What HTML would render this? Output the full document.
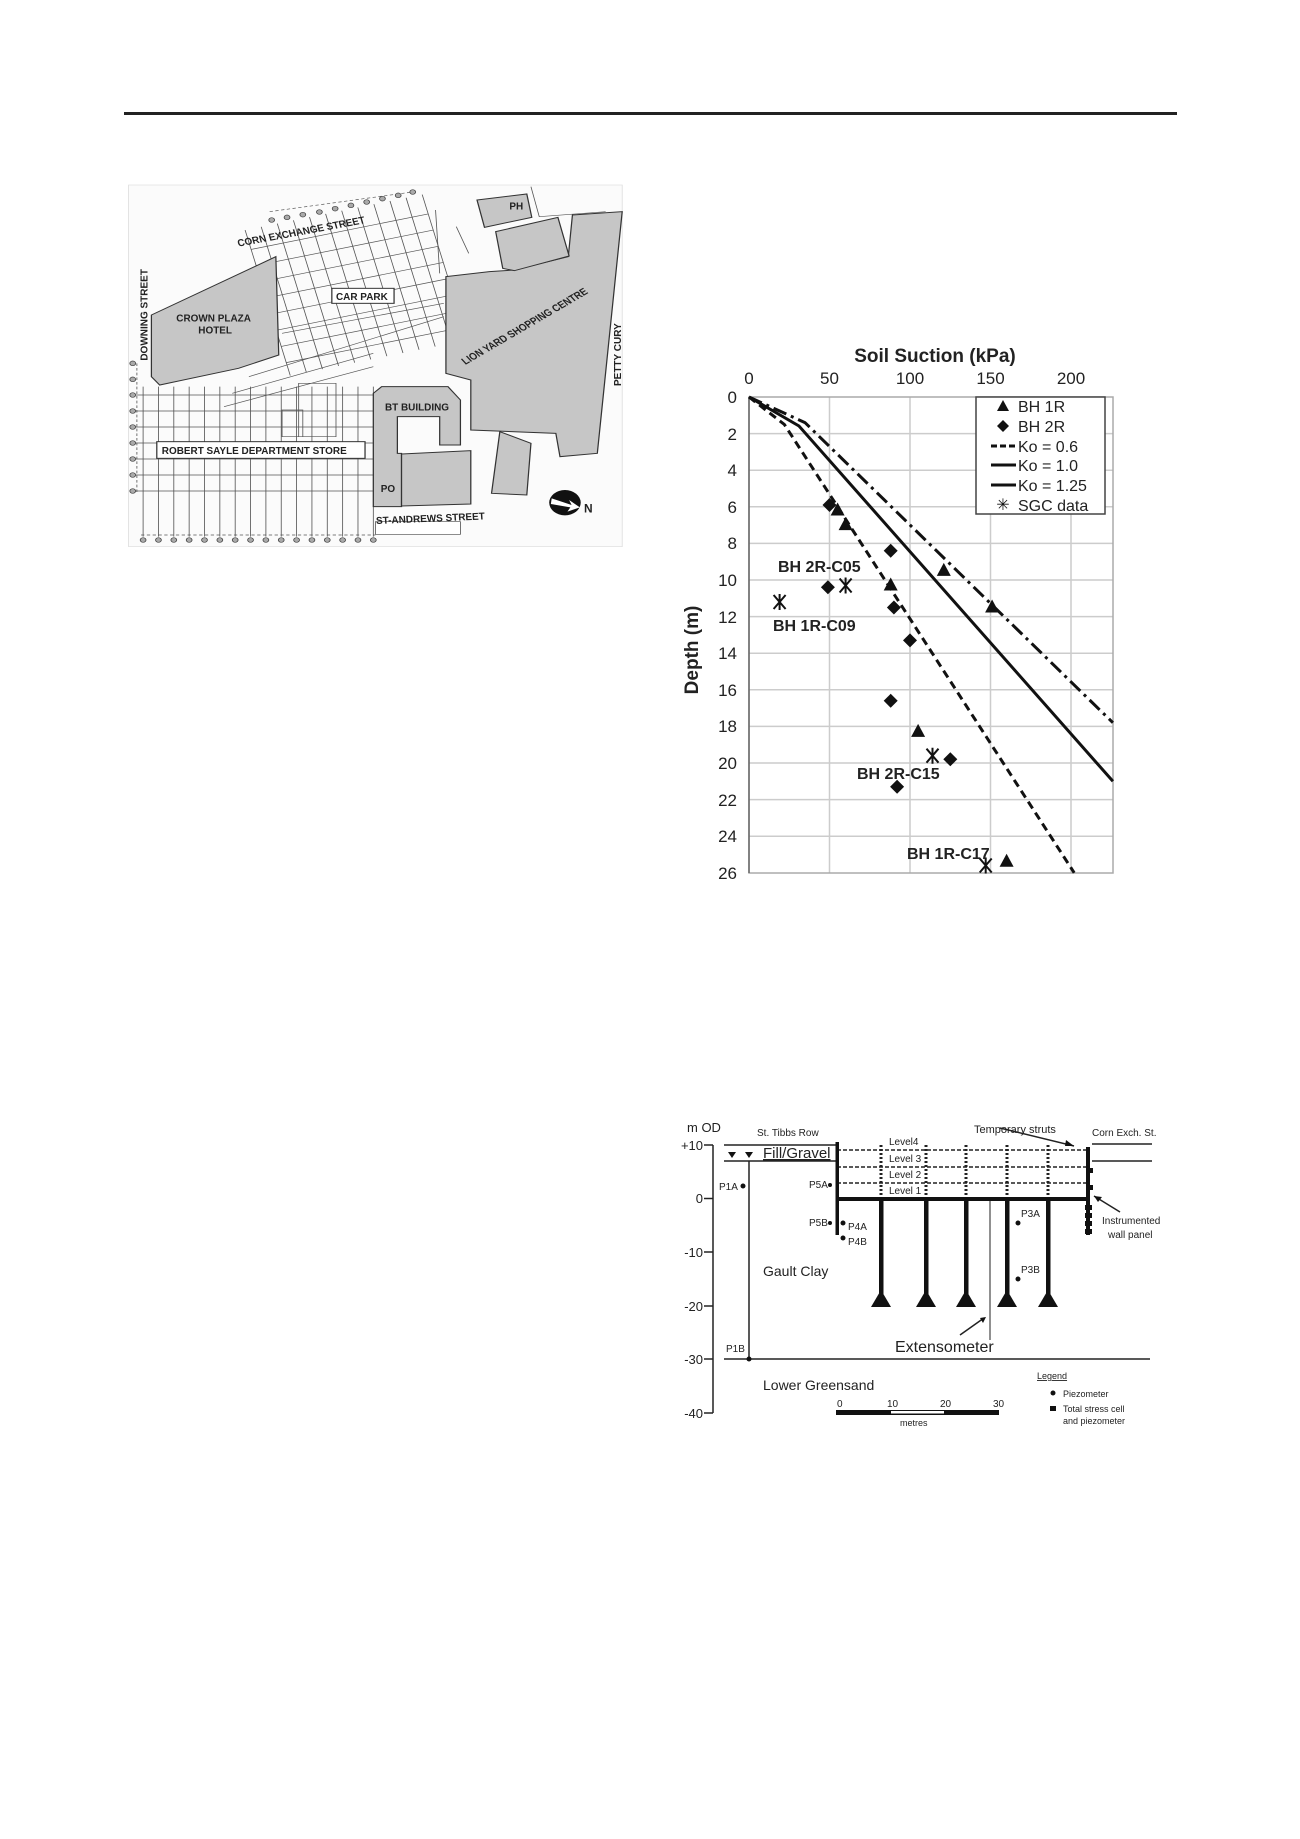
<!DOCTYPE html>
<html><head><meta charset="utf-8"><style>
html,body{margin:0;padding:0;background:#fff}
body{width:1300px;height:1839px;position:relative;overflow:hidden;font-family:"Liberation Sans",sans-serif}
svg{position:absolute;overflow:visible}
</style></head><body>
<div style="position:absolute;left:124px;top:112px;width:1053px;height:3px;background:#222"></div>

<!-- MAP -->
<svg style="left:0;top:100px" width="650" height="480" viewBox="0 0 1567 1440" preserveAspectRatio="none">
<rect x="310" y="255" width="1190" height="1085" fill="#fbfbfb" stroke="#ddd" stroke-width="2"/>
<g stroke="#555" stroke-width="2" fill="none">
<!-- lower grid -->
<g>
<line x1="345" y1="860" x2="345" y2="1310"/><line x1="382" y1="860" x2="382" y2="1310"/><line x1="419" y1="860" x2="419" y2="1310"/><line x1="456" y1="860" x2="456" y2="1310"/><line x1="493" y1="860" x2="493" y2="1310"/><line x1="530" y1="860" x2="530" y2="1310"/><line x1="567" y1="860" x2="567" y2="1310"/><line x1="604" y1="860" x2="604" y2="1310"/><line x1="641" y1="860" x2="641" y2="1310"/><line x1="678" y1="860" x2="678" y2="1310"/><line x1="715" y1="860" x2="715" y2="1310"/><line x1="752" y1="860" x2="752" y2="1310"/><line x1="789" y1="860" x2="789" y2="1310"/><line x1="826" y1="860" x2="826" y2="1310"/><line x1="863" y1="860" x2="863" y2="1310"/><line x1="900" y1="860" x2="900" y2="1310"/>
<line x1="320" y1="885" x2="900" y2="885"/><line x1="320" y1="933" x2="900" y2="933"/><line x1="320" y1="981" x2="900" y2="981"/><line x1="320" y1="1029" x2="900" y2="1029"/><line x1="320" y1="1077" x2="900" y2="1077"/><line x1="320" y1="1125" x2="900" y2="1125"/><line x1="320" y1="1173" x2="900" y2="1173"/>
<line x1="340" y1="1305" x2="905" y2="1305" stroke-dasharray="8 6"/>
<line x1="330" y1="790" x2="330" y2="1180" stroke-dasharray="8 6"/>
</g>
<!-- upper rotated grid -->
<g transform="rotate(-14 860 560)">
<line x1="640" y1="330" x2="640" y2="780"/><line x1="680" y1="330" x2="680" y2="780"/><line x1="720" y1="330" x2="720" y2="780"/><line x1="760" y1="330" x2="760" y2="780"/><line x1="800" y1="330" x2="800" y2="780"/><line x1="840" y1="330" x2="840" y2="780"/><line x1="880" y1="330" x2="880" y2="780"/><line x1="920" y1="330" x2="920" y2="780"/><line x1="960" y1="330" x2="960" y2="780"/><line x1="1000" y1="330" x2="1000" y2="780"/><line x1="1040" y1="330" x2="1040" y2="780"/><line x1="1080" y1="330" x2="1080" y2="780"/>
<line x1="640" y1="390" x2="1080" y2="390"/><line x1="640" y1="440" x2="1080" y2="440"/><line x1="640" y1="490" x2="1080" y2="490"/><line x1="640" y1="540" x2="1080" y2="540"/><line x1="640" y1="590" x2="1080" y2="590"/><line x1="640" y1="640" x2="1080" y2="640"/><line x1="640" y1="690" x2="1080" y2="690"/><line x1="640" y1="740" x2="1080" y2="740"/>
</g>
<path d="M560 880 L900 760 M540 920 L900 800 M600 830 L1070 650 M680 700 L1070 610" />
<path d="M720 850 H810 V1010 H720 Z M680 930 H730 V1010 H680 Z"/>
<line x1="650" y1="335" x2="1000" y2="275" stroke-dasharray="8 6"/>
<path d="M1050 330 L1060 520 M1100 380 L1130 460 M1280 260 L1300 350 L1460 335"/>
</g>
<g fill="#aaa" stroke="#444" stroke-width="2">
<circle cx="345" cy="1320" r="7"/><circle cx="382" cy="1320" r="7"/><circle cx="419" cy="1320" r="7"/><circle cx="456" cy="1320" r="7"/><circle cx="493" cy="1320" r="7"/><circle cx="530" cy="1320" r="7"/><circle cx="567" cy="1320" r="7"/><circle cx="604" cy="1320" r="7"/><circle cx="641" cy="1320" r="7"/><circle cx="678" cy="1320" r="7"/><circle cx="715" cy="1320" r="7"/><circle cx="752" cy="1320" r="7"/><circle cx="789" cy="1320" r="7"/><circle cx="826" cy="1320" r="7"/><circle cx="863" cy="1320" r="7"/><circle cx="900" cy="1320" r="7"/>
<circle cx="320" cy="790" r="7"/><circle cx="320" cy="838" r="7"/><circle cx="320" cy="885" r="7"/><circle cx="320" cy="933" r="7"/><circle cx="320" cy="981" r="7"/><circle cx="320" cy="1029" r="7"/><circle cx="320" cy="1077" r="7"/><circle cx="320" cy="1125" r="7"/><circle cx="320" cy="1173" r="7"/>
<circle cx="655" cy="360" r="7"/><circle cx="692" cy="352" r="7"/><circle cx="730" cy="344" r="7"/><circle cx="770" cy="336" r="7"/><circle cx="808" cy="326" r="7"/><circle cx="846" cy="316" r="7"/><circle cx="884" cy="306" r="7"/><circle cx="922" cy="296" r="7"/><circle cx="960" cy="286" r="7"/><circle cx="995" cy="276" r="7"/>
</g>
<g fill="#c6c6c6" stroke="#333" stroke-width="3">
<polygon points="365,645 665,470 672,765 575,805 385,855 365,830"/>
<polygon points="1075,530 1180,515 1240,510 1370,470 1380,345 1500,335 1440,1060 1350,1070 1340,1000 1135,990 1135,840 1075,820"/>
<polygon points="900,880 920,860 1080,860 1110,900 1110,1035 1060,1035 1060,950 958,950 958,1060 968,1060 968,1220 900,1220"/>
<polygon points="968,1062 1135,1052 1135,1212 968,1218"/>
<polygon points="1150,300 1270,282 1282,352 1168,382"/>
<polygon points="1195,395 1345,352 1372,468 1240,512 1212,505"/>
<polygon points="1205,995 1280,1030 1270,1185 1185,1180"/>
</g>
<rect x="800" y="565" width="150" height="45" fill="#fff" stroke="#333" stroke-width="3"/>
<rect x="378" y="1025" width="502" height="50" fill="#fff" stroke="#333" stroke-width="3"/>
<rect x="905" y="1265" width="205" height="38" fill="#fff" stroke="#555" stroke-width="2"/>
<circle cx="1362" cy="1208" r="38" fill="#111"/>
<path d="M1330 1195 L1378 1215 L1372 1200 L1398 1222 L1368 1235 L1375 1222 L1328 1212 Z" fill="#fff"/>
<g font-family="Liberation Sans" font-weight="bold" fill="#222" font-size="30">
<text transform="translate(575,440) rotate(-13) scale(0.8,1)">CORN EXCHANGE STREET</text>
<text transform="translate(355,782) rotate(-90) scale(1,0.8)">DOWNING STREET</text>
<text transform="translate(425,665) scale(0.8,1)">CROWN PLAZA</text>
<text transform="translate(478,700) scale(0.8,1)">HOTEL</text>
<text transform="translate(810,600) scale(0.8,1)">CAR PARK</text>
<text transform="translate(1122,795) rotate(-36) scale(0.8,1)">LION YARD SHOPPING CENTRE</text>
<text transform="translate(1497,858) rotate(-90) scale(1,0.8)">PETTY CURY</text>
<text transform="translate(928,932) scale(0.8,1)">BT BUILDING</text>
<text transform="translate(390,1062) scale(0.8,1)">ROBERT SAYLE DEPARTMENT STORE</text>
<text transform="translate(918,1176) scale(0.8,1)">PO</text>
<text transform="translate(907,1272) rotate(-3) scale(0.8,1)">ST-ANDREWS STREET</text>
<text transform="translate(1228,328) scale(0.8,1)">PH</text>
<text transform="translate(1408,1238) scale(0.8,1)" font-size="36">N</text>
</g>
</svg>

<!-- CHART -->
<svg style="left:0;top:0" width="1300" height="1000">
<g stroke="#ccc" stroke-width="1.5">
<line x1="749" y1="433.6" x2="1113" y2="433.6"/><line x1="749" y1="470.2" x2="1113" y2="470.2"/><line x1="749" y1="506.8" x2="1113" y2="506.8"/><line x1="749" y1="543.4" x2="1113" y2="543.4"/><line x1="749" y1="580" x2="1113" y2="580"/><line x1="749" y1="616.6" x2="1113" y2="616.6"/><line x1="749" y1="653.2" x2="1113" y2="653.2"/><line x1="749" y1="689.8" x2="1113" y2="689.8"/><line x1="749" y1="726.4" x2="1113" y2="726.4"/><line x1="749" y1="763" x2="1113" y2="763"/><line x1="749" y1="799.6" x2="1113" y2="799.6"/><line x1="749" y1="836.2" x2="1113" y2="836.2"/>
<line x1="829.5" y1="397" x2="829.5" y2="873"/><line x1="910" y1="397" x2="910" y2="873"/><line x1="990.5" y1="397" x2="990.5" y2="873"/><line x1="1071" y1="397" x2="1071" y2="873"/>
</g>
<rect x="749" y="397" width="364" height="476" fill="none" stroke="#aaa" stroke-width="1.5"/>
<line x1="749" y1="397" x2="749" y2="873" stroke="#666" stroke-width="1.5"/>
<g font-size="17" fill="#222" text-anchor="middle">
<text x="749" y="384">0</text><text x="829.5" y="384">50</text><text x="910" y="384">100</text><text x="990.5" y="384">150</text><text x="1071" y="384">200</text>
</g>
<g font-size="17" fill="#222" text-anchor="end">
<text x="737" y="403">0</text><text x="737" y="440">2</text><text x="737" y="476">4</text><text x="737" y="513">6</text><text x="737" y="549">8</text><text x="737" y="586">10</text><text x="737" y="623">12</text><text x="737" y="659">14</text><text x="737" y="696">16</text><text x="737" y="732">18</text><text x="737" y="769">20</text><text x="737" y="806">22</text><text x="737" y="842">24</text><text x="737" y="879">26</text>
</g>
<text x="935" y="362" font-size="19" font-weight="bold" text-anchor="middle" fill="#222">Soil Suction (kPa)</text>
<text transform="translate(698,650) rotate(-90)" font-size="19" font-weight="bold" text-anchor="middle" fill="#222">Depth (m)</text>
<polyline points="749,397 784.4,424.5 1074.2,872.8" fill="none" stroke="#111" stroke-width="3" stroke-dasharray="8 5"/>
<polyline points="749,397 799,426 1112.9,781.3" fill="none" stroke="#111" stroke-width="3"/>
<polyline points="749,397 805,422.6 1112.9,722.7" fill="none" stroke="#111" stroke-width="3" stroke-dasharray="14 5 3 5"/>
<rect x="976" y="397" width="129" height="117" fill="#fff" stroke="#444" stroke-width="1.5"/>
<g fill="#111">
<polygon points="1003,400 997,411 1009,411"/>
<polygon points="1003,420 1009,426 1003,432 997,426"/>
</g>
<line x1="991" y1="446" x2="1016" y2="446" stroke="#111" stroke-width="3" stroke-dasharray="6 3"/>
<line x1="991" y1="465" x2="1016" y2="465" stroke="#111" stroke-width="3"/>
<line x1="991" y1="485" x2="1016" y2="485" stroke="#111" stroke-width="3"/>
<text x="1003" y="510" font-size="16" text-anchor="middle" fill="#111">✳</text>
<g font-size="16" fill="#222">
<text x="1018" y="412">BH 1R</text><text x="1018" y="432">BH 2R</text><text x="1018" y="452">Ko = 0.6</text><text x="1018" y="471">Ko = 1.0</text><text x="1018" y="491">Ko = 1.25</text><text x="1018" y="511">SGC data</text>
</g>
<g fill="#111">
<polygon points="837.6,502.5 830.6,515.5 844.6,515.5"/>
<polygon points="845.6,517.1 838.6,530.1 852.6,530.1"/>
<polygon points="890.7,577.5 883.7,590.5 897.7,590.5"/>
<polygon points="943.8,562.9 936.8,575.9 950.8,575.9"/>
<polygon points="992.1,599.5 985.1,612.5 999.1,612.5"/>
<polygon points="918.1,723.9 911.1,736.9 925.1,736.9"/>
<polygon points="1006.6,853.8 999.6,866.8 1013.6,866.8"/>
<polygon points="829.5,498 836.5,505 829.5,512 822.5,505"/>
<polygon points="890.7,543.7 897.7,550.7 890.7,557.7 883.7,550.7"/>
<polygon points="827.9,580.3 834.9,587.3 827.9,594.3 820.9,587.3"/>
<polygon points="893.9,600.5 900.9,607.5 893.9,614.5 886.9,607.5"/>
<polygon points="910,633.4 917,640.4 910,647.4 903,640.4"/>
<polygon points="890.7,693.8 897.7,700.8 890.7,707.8 883.7,700.8"/>
<polygon points="950.3,752.3 957.3,759.3 950.3,766.3 943.3,759.3"/>
<polygon points="897.1,779.8 904.1,786.8 897.1,793.8 890.1,786.8"/>
</g>
<g stroke="#111" stroke-width="2">
<path d="M839.6 578.5 L851.6 592.5 M851.6 578.5 L839.6 592.5 M845.6 577.5 V593.5"/>
<path d="M773.6 595 L785.6 609 M785.6 595 L773.6 609 M779.6 594 V610"/>
<path d="M926.5 748.7 L938.5 762.7 M938.5 748.7 L926.5 762.7 M932.5 747.7 V763.7"/>
<path d="M979.7 858.5 L991.7 872.5 M991.7 858.5 L979.7 872.5 M985.7 857.5 V873.5"/>
</g>
<g font-size="16" font-weight="bold" fill="#222">
<text x="778" y="572">BH 2R-C05</text><text x="773" y="631">BH 1R-C09</text><text x="857" y="779">BH 2R-C15</text><text x="907" y="859">BH 1R-C17</text>
</g>
</svg>

<!-- SECTION -->
<svg style="left:0;top:0" width="1300" height="1839">
<g stroke="#222" stroke-width="1.5" fill="none">
<line x1="713" y1="1145" x2="713" y2="1413"/>
<line x1="704" y1="1145" x2="713" y2="1145"/><line x1="704" y1="1198.5" x2="713" y2="1198.5"/><line x1="704" y1="1252" x2="713" y2="1252"/><line x1="704" y1="1306" x2="713" y2="1306"/><line x1="704" y1="1359" x2="713" y2="1359"/><line x1="704" y1="1413" x2="713" y2="1413"/>
<line x1="724" y1="1145" x2="837" y2="1145"/><line x1="724" y1="1161" x2="837" y2="1161"/>
<line x1="749" y1="1161" x2="749" y2="1359"/>
<line x1="724" y1="1359" x2="1150" y2="1359"/>
<line x1="1092" y1="1144" x2="1152" y2="1144"/><line x1="1092" y1="1161" x2="1152" y2="1161"/>
<line x1="837" y1="1150" x2="1088" y2="1150" stroke-dasharray="4 2"/>
<line x1="837" y1="1167" x2="1088" y2="1167" stroke-dasharray="4 2"/>
<line x1="837" y1="1183" x2="1088" y2="1183" stroke-dasharray="4 2"/>
<line x1="990" y1="1200" x2="990" y2="1340" stroke-width="1"/>
<line x1="960" y1="1335" x2="984" y2="1318"/>
<line x1="1000" y1="1128" x2="1074" y2="1146"/>
<line x1="1120" y1="1212" x2="1094" y2="1196"/>
</g>
<g stroke="#222" stroke-width="3" stroke-dasharray="2 2">
<line x1="881" y1="1145" x2="881" y2="1199"/><line x1="926" y1="1145" x2="926" y2="1199"/><line x1="966" y1="1145" x2="966" y2="1199"/><line x1="1007" y1="1145" x2="1007" y2="1199"/><line x1="1048" y1="1145" x2="1048" y2="1199"/>
</g>
<g fill="#111">
<rect x="835.5" y="1142" width="3.5" height="93"/>
<rect x="837" y="1197" width="252" height="4"/>
<rect x="1086" y="1147" width="4" height="88"/>
<rect x="1089" y="1168" width="4" height="5"/><rect x="1089" y="1185" width="4" height="5"/>
<rect x="1085" y="1205" width="7" height="5"/><rect x="1085" y="1213" width="7" height="5"/><rect x="1085" y="1221" width="7" height="5"/><rect x="1085" y="1229" width="7" height="5"/>
<rect x="879" y="1199" width="4.5" height="95"/><polygon points="881,1290 871,1307 891,1307"/>
<rect x="924" y="1199" width="4.5" height="95"/><polygon points="926,1290 916,1307 936,1307"/>
<rect x="964" y="1199" width="4.5" height="95"/><polygon points="966,1290 956,1307 976,1307"/>
<rect x="1005" y="1199" width="4.5" height="95"/><polygon points="1007,1290 997,1307 1017,1307"/>
<rect x="1046" y="1199" width="4.5" height="95"/><polygon points="1048,1290 1038,1307 1058,1307"/>
<polygon points="728,1152 736,1152 732,1158"/><polygon points="745,1152 753,1152 749,1158"/>
<circle cx="743" cy="1186" r="2.5"/><circle cx="749" cy="1359" r="2.5"/>
<circle cx="830" cy="1185" r="2"/><circle cx="830" cy="1223" r="2"/><circle cx="843" cy="1223" r="2.5"/><circle cx="843" cy="1238" r="2.5"/>
<circle cx="1018" cy="1223" r="2.5"/><circle cx="1018" cy="1279" r="2.5"/>
<polygon points="1074,1146 1066,1140 1065,1146"/>
<polygon points="986,1317 980,1318 983,1323"/>
<polygon points="1094,1196 1102,1197 1098,1202"/>
<rect x="836" y="1410" width="163" height="5"/>
<circle cx="1053" cy="1393" r="2.5"/><rect x="1050" y="1406" width="6" height="5"/>
</g>
<rect x="891" y="1411" width="53" height="2.5" fill="#fff"/>
<g fill="#222" font-size="13" text-anchor="end">
<text x="703" y="1150">+10</text><text x="703" y="1203">0</text><text x="703" y="1257">-10</text><text x="703" y="1311">-20</text><text x="703" y="1364">-30</text><text x="703" y="1418">-40</text>
</g>
<g fill="#222" font-size="10">
<text x="687" y="1132" font-size="13">m OD</text>
<text x="757" y="1136">St. Tibbs Row</text>
<text x="763" y="1158" font-size="15" text-decoration="underline">Fill/Gravel</text>
<text x="719" y="1190">P1A</text><text x="726" y="1352">P1B</text>
<text x="809" y="1188">P5A</text><text x="809" y="1226">P5B</text>
<text x="848" y="1230">P4A</text><text x="848" y="1245">P4B</text>
<text x="1021" y="1217">P3A</text><text x="1021" y="1273">P3B</text>
<text x="889" y="1145">Level4</text><text x="889" y="1162">Level 3</text><text x="889" y="1178">Level 2</text><text x="889" y="1194">Level 1</text>
<text x="974" y="1133" font-size="11">Temporary struts</text>
<text x="1092" y="1136">Corn Exch. St.</text>
<text x="1102" y="1224">Instrumented</text><text x="1108" y="1238">wall panel</text>
<text x="763" y="1276" font-size="14">Gault Clay</text>
<text x="763" y="1390" font-size="14">Lower Greensand</text>
<text x="895" y="1352" font-size="16">Extensometer</text>
<text x="837" y="1407">0</text><text x="887" y="1407">10</text><text x="940" y="1407">20</text><text x="993" y="1407">30</text>
<text x="900" y="1426" font-size="9">metres</text>
<text x="1037" y="1379" font-size="9" text-decoration="underline">Legend</text>
<text x="1063" y="1397" font-size="9">Piezometer</text>
<text x="1063" y="1412" font-size="9">Total stress cell</text>
<text x="1063" y="1424" font-size="9">and piezometer</text>
</g>
</svg>
</body></html>
